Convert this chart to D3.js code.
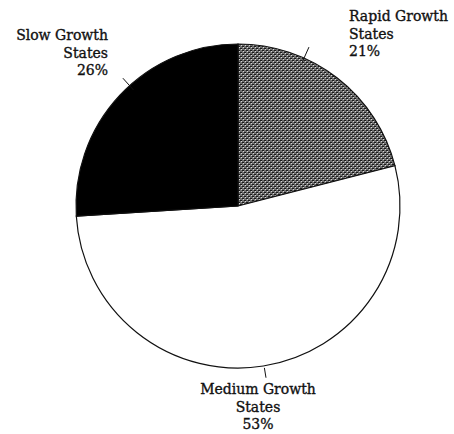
<!DOCTYPE html>
<html>
<head>
<meta charset="utf-8">
<script src="https://cdn.jsdelivr.net/npm/d3@7"></script>
<style>
  body { margin: 0; background: #fff; }
  text { font-family: "DejaVu Serif", serif; font-size: 14px; fill: #111; stroke: #111; stroke-width: 0.35px; }
</style>
</head>
<body>
<svg class="pie" width="454" height="434"></svg>
<script>
// data
let groups = ["Rapid Growth States", "Medium Growth States", "Slow Growth States"];
let shares = [21, 53, 26];
let labelLines = [["Rapid Growth", "States", "21%"], ["Medium Growth", "States", "53%"], ["Slow Growth", "States", "26%"]];

let svg = d3.select("svg.pie"),
    cx = 238, cy = 206, radius = 162;

// halftone fill for the rapid slice
let defs = svg.append("defs");
let pat = defs.append("pattern")
    .attr("id", "dots")
    .attr("patternUnits", "userSpaceOnUse")
    .attr("width", 4)
    .attr("height", 4);
pat.append("rect").attr("width", 4).attr("height", 4).attr("fill", "#6e6e6e");
pat.append("rect").attr("x", 0).attr("y", 0).attr("width", 2).attr("height", 1).attr("fill", "#1a1a1a");
pat.append("rect").attr("x", 2).attr("y", 2).attr("width", 2).attr("height", 1).attr("fill", "#1a1a1a");
pat.append("rect").attr("x", 1).attr("y", 1).attr("width", 1).attr("height", 1).attr("fill", "#d8d8d8");
pat.append("rect").attr("x", 3).attr("y", 3).attr("width", 1).attr("height", 1).attr("fill", "#d8d8d8");

let fillScale = d3.scaleOrdinal()
    .domain(groups)
    .range(["url(#dots)", "#fff", "#000"]);

let pie = d3.pie().sort(null).value(d => d.v);
let arc = d3.arc().innerRadius(0).outerRadius(radius);

let data = groups.map((g, i) => ({g: g, v: shares[i], lines: labelLines[i]}));
let arcs = pie(data);

let g = svg.append("g")
    .attr("transform", "translate(" + cx + "," + cy + ")");

g.selectAll("path.slice")
    .data(arcs)
    .join("path")
    .attr("class", "slice")
    .attr("d", arc)
    .attr("fill", d => fillScale(d.data.g))
    .attr("stroke", "#111")
    .attr("stroke-width", 1.2);

// leader lines: angle and radii per slice
let leader = [
    {a: 0.42, r0: radius - 4, r1: radius + 12},
    {a: 2.98, r0: radius + 2, r1: radius + 12},
    {a: 5.55, r0: radius - 6, r1: radius + 10}
];
let ptAt = (a, r) => [Math.sin(a) * r, -Math.cos(a) * r];

g.selectAll("line.leader")
    .data(leader)
    .join("line")
    .attr("class", "leader")
    .attr("x1", d => ptAt(d.a, d.r0)[0])
    .attr("y1", d => ptAt(d.a, d.r0)[1])
    .attr("x2", d => ptAt(d.a, d.r1)[0])
    .attr("y2", d => ptAt(d.a, d.r1)[1])
    .attr("stroke", "#111")
    .attr("stroke-width", 1);

// labels
let labelPos = [
    {x: 349, y: 21, anchor: "start"},
    {x: 258, y: 394, anchor: "middle"},
    {x: 108, y: 40, anchor: "end"}
];

svg.selectAll("text.lbl")
    .data(data)
    .join("text")
    .attr("class", "lbl")
    .attr("x", (d, i) => labelPos[i].x)
    .attr("y", (d, i) => labelPos[i].y)
    .attr("text-anchor", (d, i) => labelPos[i].anchor)
    .selectAll("tspan")
    .data((d, i) => d.lines.map(l => ({t: l, x: labelPos[i].x})))
    .join("tspan")
    .attr("x", d => d.x)
    .attr("dy", (d, i) => i == 0 ? 0 : 17.5)
    .text(d => d.t);
</script>
</body>
</html>
